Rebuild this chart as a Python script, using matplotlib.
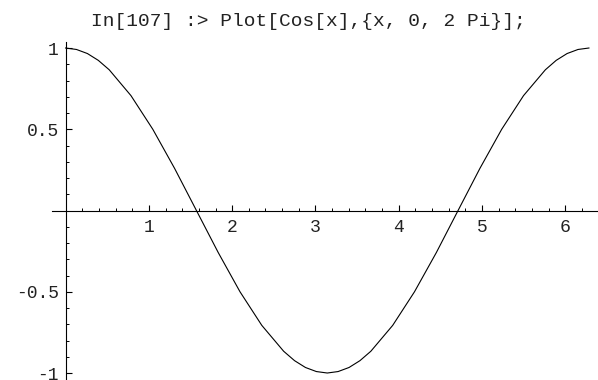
import matplotlib
matplotlib.use("Agg")
import matplotlib.pyplot as plt
from matplotlib.ticker import MultipleLocator, FixedLocator

x_vals = [0.0, 0.131, 0.262, 0.393, 0.524, 0.785, 1.047, 1.309, 1.571, 1.833,
          2.094, 2.356, 2.618, 2.749, 2.880, 3.011, 3.142, 3.272, 3.403, 3.534,
          3.665, 3.927, 4.189, 4.451, 4.712, 4.974, 5.236, 5.498, 5.760, 5.890,
          6.021, 6.152, 6.283]
y_vals = [1.0, 0.991, 0.966, 0.924, 0.866, 0.707, 0.5, 0.259, 0.0, -0.259,
          -0.5, -0.707, -0.866, -0.924, -0.966, -0.991, -1.0, -0.991, -0.966, -0.924,
          -0.866, -0.707, -0.5, -0.259, 0.0, 0.259, 0.5, 0.707, 0.866, 0.924,
          0.966, 0.991, 1.0]
x_ticks = [1, 2, 3, 4, 5, 6]
x_tick_labels = ["1", "2", "3", "4", "5", "6"]
y_ticks = [-1, -0.5, 0.5, 1]
y_tick_labels = ["-1", "-0.5", "0.5", "1"]
title = "In[107] :> Plot[Cos[x],{x, 0, 2 Pi}];"

W, H = 598, 380
fig = plt.figure(figsize=(W / 100, H / 100), dpi=100)
left_px, right_px, top_px, bottom_px = 52, 597, 42, 380
ax = fig.add_axes([left_px / W, 1 - bottom_px / H, (right_px - left_px) / W, (bottom_px - top_px) / H])
ax.patch.set_alpha(0)

ax.plot(x_vals, y_vals, color="black", lw=0.8, solid_joinstyle="miter")

ax.set_xlim(-0.163, 6.38)
ax.set_ylim(-1.043, 1.037)

for s in ["top", "right"]:
    ax.spines[s].set_visible(False)
ax.spines["left"].set_position(("data", 0))
ax.spines["bottom"].set_position(("data", 0))
for s in ["left", "bottom"]:
    ax.spines[s].set_linewidth(0.8)
    ax.spines[s].set_color("black")

ax.xaxis.set_major_locator(FixedLocator(x_ticks))
ax.set_xticklabels(x_tick_labels)
ax.xaxis.set_minor_locator(MultipleLocator(0.2))
ax.yaxis.set_major_locator(FixedLocator(y_ticks))
ax.set_yticklabels(y_tick_labels)
ax.yaxis.set_minor_locator(MultipleLocator(0.1))

ax.tick_params(which="major", direction="in", length=4, width=0.8, color="black")
ax.tick_params(which="minor", direction="in", length=2.2, width=0.7, color="black")
ax.tick_params(axis="x", which="major", pad=6)
ax.tick_params(axis="y", which="major", pad=5)

for lab in ax.get_xticklabels() + ax.get_yticklabels():
    lab.set_fontfamily("Liberation Mono")
    lab.set_fontsize(13)
    lab.set_color("#222222")

fig.text(308 / W, 1 - 26 / H, title, ha="center", va="baseline",
         fontfamily="Liberation Mono", fontsize=14, color="#222222")

fig.savefig("out.png", dpi=100)
